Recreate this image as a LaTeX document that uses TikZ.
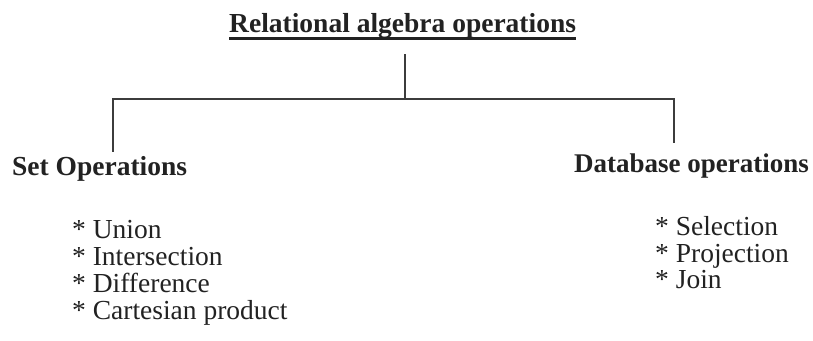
\documentclass[tikz,border=0pt]{standalone}
\usepackage{fontspec}
\setmainfont{Liberation Serif}
\definecolor{ink}{HTML}{222222}
\definecolor{wire}{HTML}{3C3C3C}
\tikzset{
  head/.style={inner sep=0pt, anchor=base west, text=ink, font=\fontsize{27.5}{30}\selectfont\bfseries},
  item/.style={inner sep=0pt, anchor=base west, text=ink, font=\fontsize{27.5}{30}\selectfont},
  wireline/.style={draw=wire, line width=1.4pt},
}
\begin{document}
\begin{tikzpicture}[x=1pt,y=-1pt]
\useasboundingbox[fill=white] (0,0) rectangle (813,340);
% title
\node[head] (title) at (229,32) {Relational algebra operations};
\draw[ink, line width=3pt] ([yshift=-6pt]title.base west) -- ([yshift=-6pt]title.base east);
% headings
\node[head] (set) at (12,175) {Set Operations};
\node[head, font=\fontsize{27}{30}\selectfont\bfseries] (db) at (574,172) {Database operations};
% items
\node[item] (u) at (72,238) {* Union};
\node[item] (i) at (72,265) {* Intersection};
\node[item] (d) at (72,292) {* Difference};
\node[item] (c) at (72,319) {* Cartesian product};
\node[item] (s) at (655,235) {* Selection};
\node[item] (p) at (655,262) {* Projection};
\node[item] (j) at (655,288) {* Join};
% connectors
\coordinate (t1) at (405,54);
\coordinate (jn) at (405,99);
\coordinate (lc) at (113,99);
\coordinate (rc) at (674,99);
\coordinate (le) at (113,151);
\coordinate (re) at (674,142);
\draw[wireline] (t1) -- (jn);
\draw[wireline, line cap=rect] (le) -- (lc) -- (rc) -- (re);
\end{tikzpicture}
\end{document}
